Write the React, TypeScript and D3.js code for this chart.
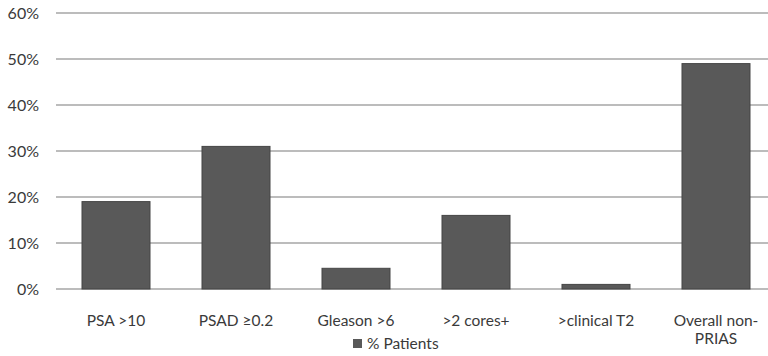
import React from "react";
import * as d3 from "d3";

const categories = ["PSA >10", "PSAD ≥0.2", "Gleason >6", ">2 cores+", ">clinical T2", "Overall non-PRIAS"];
const values = [19, 31, 4.5, 16, 1, 49];
const yTicks = [0, 10, 20, 30, 40, 50, 60];
const seriesName = "% Patients";

const W = 768;
const H = 356;

export default function App() {
  const x = d3.scaleBand<string>().domain(categories).range([56, 776]).paddingInner(0.4333).paddingOuter(0.2167);
  const y = d3.scaleLinear().domain([0, 60]).range([289, 13]);
  const font = "Lato, 'Open Sans', sans-serif";
  const textColor = "#3a3a3a";
  const fs = 15.5;

  const wrap = (s: string) => (s === "Overall non-PRIAS" ? ["Overall non-", "PRIAS"] : [s]);

  return (
    <svg width={W} height={H} style={{ position: "absolute", left: 0, top: 0, background: "#fff" }} fontFamily={font}>
      {yTicks.map((t) => (
        <g key={t}>
          <line x1={56} x2={W} y1={y(t)} y2={y(t)} stroke="#a6a6a6" strokeWidth={1.3} />
          <text x={39} y={y(t)} dy="0.35em" textAnchor="end" fontSize={16} fill={textColor}>
            {t}%
          </text>
        </g>
      ))}
      {categories.map((c, i) => (
        <rect
          key={c}
          x={x(c)!}
          y={y(values[i])}
          width={x.bandwidth()}
          height={y(0) - y(values[i])}
          fill="#595959"
          stroke="#454545"
          strokeWidth={1}
        />
      ))}
      {categories.map((c) =>
        wrap(c).map((line, j) => (
          <text
            key={c + j}
            x={x(c)! + x.bandwidth() / 2}
            y={320.5 + j * 18.5}
            dy="0.35em"
            textAnchor="middle"
            fontSize={fs}
            fill={textColor}
          >
            {line}
          </text>
        ))
      )}
      <rect x={353} y={339} width={9} height={9} fill="#595959" />
      <text x={367} y={343.5} dy="0.35em" fontSize={fs} fill={textColor}>
        {seriesName}
      </text>
    </svg>
  );
}
